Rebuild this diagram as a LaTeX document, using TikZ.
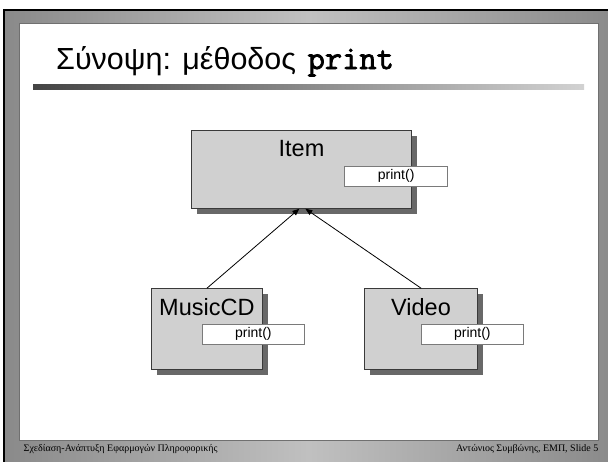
\documentclass[tikz,border=0pt]{standalone}
\usepackage{fontspec}
\setmainfont{Liberation Serif}
\newfontfamily\arialfont{Liberation Sans}
\newfontfamily\codefont[FakeBold=2.2]{Latin Modern Mono}
\usetikzlibrary{arrows.meta,shadows}

\definecolor{framedark}{HTML}{8A8A8A}
\definecolor{framelight}{HTML}{C0C0C0}
\definecolor{panelline}{HTML}{707070}
\definecolor{ruledark}{HTML}{444444}
\definecolor{rulelight}{HTML}{D2D2D2}
\definecolor{boxfill}{HTML}{D0D0D0}
\definecolor{boxshadow}{HTML}{686868}
\definecolor{boxline}{HTML}{3A3A3A}
\definecolor{methodline}{HTML}{7A7A7A}

\begin{document}
\begin{tikzpicture}[x=1pt,y=-1pt,
  classbox/.style={draw=boxline, line width=0.8pt, fill=boxfill, anchor=north west,
    inner sep=0pt, outer sep=0pt,
    drop shadow={shadow xshift=5.5pt, shadow yshift=-5.5pt, fill=boxshadow, opacity=1}},
  methodbox/.style={draw=methodline, line width=0.7pt, fill=white, anchor=north west,
    inner sep=0pt, minimum width=103pt, minimum height=20.5pt,
    font=\arialfont\fontsize{14}{16}\selectfont},
  classname/.style={anchor=base, inner sep=0pt, font=\arialfont\fontsize{23.5}{26}\selectfont},
  footer/.style={inner sep=0pt, font=\fontsize{10}{12}\selectfont},
  inherit/.style={draw=black, line width=0.8pt, -{Triangle[length=7pt,width=5.5pt]}}
]
\useasboundingbox (0,0) rectangle (608,461);
\fill[white] (0,0) rectangle (608,461);

% slide frame
\fill[black] (3,9) rectangle (612,465);
\shade[left color=framedark, right color=framedark, middle color=framelight]
  (5,11) rectangle (612,465);
\filldraw[fill=white, draw=panelline, line width=1pt] (19,23) rectangle (598,440);

% title and its rule
\node[anchor=base west, inner sep=0pt, font=\arialfont\fontsize{30.5}{33}\selectfont]
  (title) at (56,69) {Σύνοψη: μέθοδος \hspace{3pt}{\codefont\fontsize{33.5}{34}\selectfont print}};
\shade[left color=ruledark, right color=rulelight] (33,84) rectangle (584,89);

% classes
\node[classbox, minimum width=219.3pt, minimum height=78pt] (item) at (191.7,130.7) {};
\node[classname] (itemname) at (301.5,156.7) {Item};
\node[methodbox] (itemprint) at (344.3,165.7) {print()};

\node[classbox, minimum width=111.7pt, minimum height=80.7pt] (musiccd) at (151,288.3) {};
\node[classname, anchor=base west] (musiccdname) at (159,315) {MusicCD};
\node[methodbox, minimum width=102pt] (musiccdprint) at (202,323.7) {print()};

\node[classbox, minimum width=113pt, minimum height=80.7pt] (video) at (364.7,288.3) {};
\node[classname] (videoname) at (421,315) {Video};
\node[methodbox, minimum width=102.6pt] (videoprint) at (420.7,323.7) {print()};

% inheritance
\draw[inherit] (musiccd.north) -- ([xshift=-2pt]item.south);
\draw[inherit] (video.north) -- ([xshift=4pt]item.south);

% footer
\node[footer, anchor=base west] (footleft) at (23.5,451)
  {Σχεδίαση-Ανάπτυξη Εφαρμογών Πληροφορικής};
\node[footer, anchor=base east] (footright) at (598.5,451)
  {Αντώνιος Συμβώνης, ΕΜΠ, Slide 5};
\end{tikzpicture}
\end{document}
